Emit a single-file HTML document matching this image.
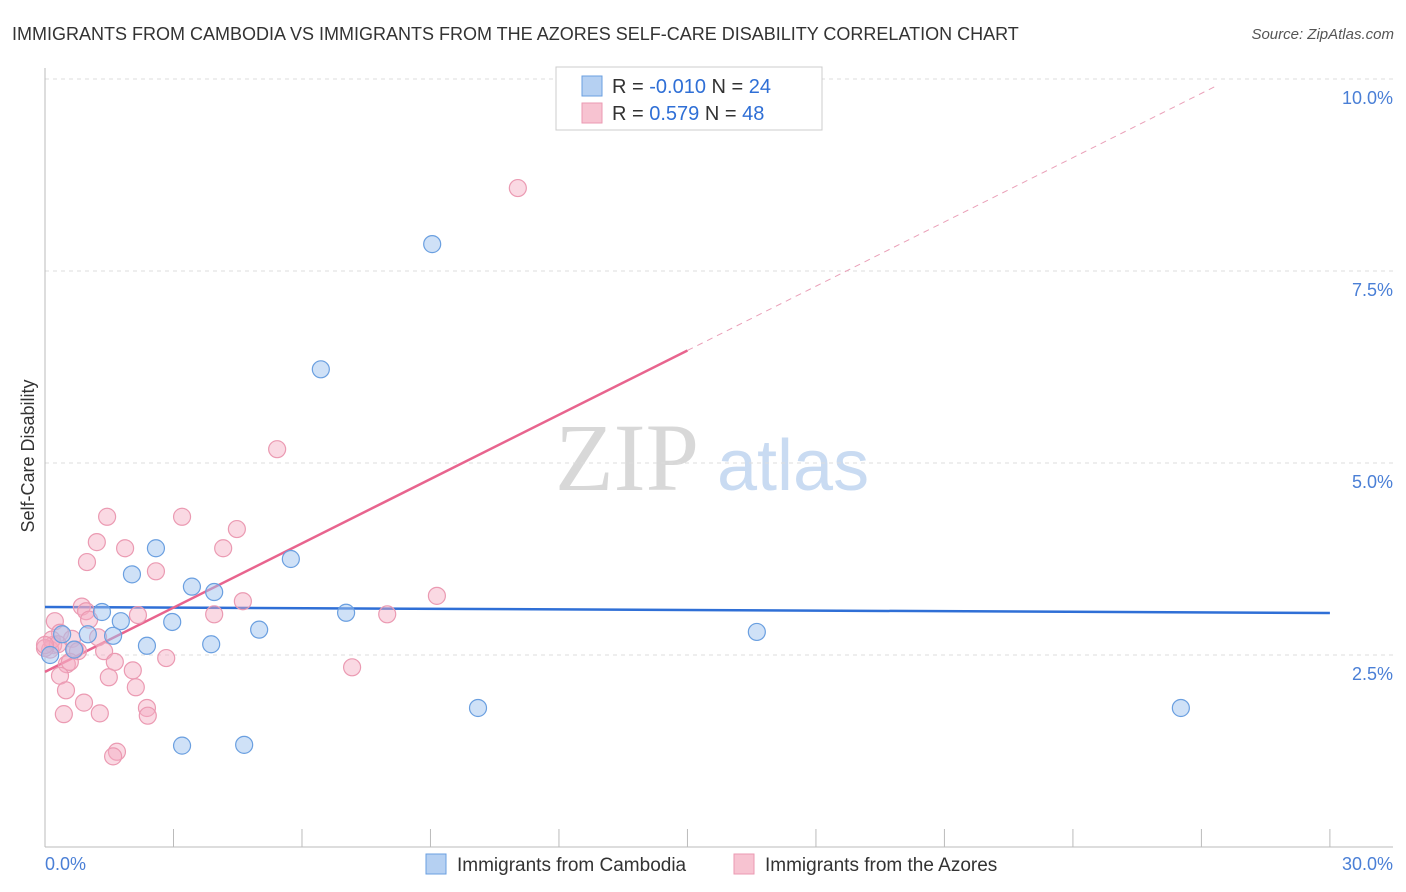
<!DOCTYPE html>
<html><head><meta charset="utf-8"><style>
body{margin:0;background:#fff;width:1406px;height:892px;overflow:hidden;font-family:"Liberation Sans",sans-serif}
svg{position:absolute;left:0;top:0}
</style></head><body>
<svg id="chart" width="1406" height="892">
<text x="12" y="40" font-size="18" fill="#333">IMMIGRANTS FROM CAMBODIA VS IMMIGRANTS FROM THE AZORES SELF-CARE DISABILITY CORRELATION CHART</text>
<text x="1394" y="39" font-size="15" fill="#555" font-style="italic" text-anchor="end">Source: ZipAtlas.com</text>
<text x="555" y="490" font-size="96" fill="#d8d8d8" font-family="Liberation Serif,serif">ZIP</text>
<text x="717" y="490" font-size="72" fill="#c9dbf2">atlas</text>
<text transform="translate(34,456) rotate(-90)" font-size="18" fill="#333" text-anchor="middle">Self-Care Disability</text>
<g id="grid"></g><g id="axes"></g><g id="lines"></g><g id="pts"></g>
<g>
<rect x="556" y="67" width="266" height="63" fill="#fff" stroke="#ccc"/>
<rect x="582" y="76" width="20" height="20" fill="#b5d0f2" stroke="#6a9fe0"/>
<rect x="582" y="103" width="20" height="20" fill="#f7c3d1" stroke="#eb9ab2"/>
<text x="612" y="93" font-size="20" fill="#333">R = <tspan fill="#2f6fd6">-0.010</tspan>   N = <tspan fill="#2f6fd6">24</tspan></text>
<text x="612" y="120" font-size="20" fill="#333">R =   <tspan fill="#2f6fd6">0.579</tspan>   N = <tspan fill="#2f6fd6">48</tspan></text>
</g>
<g>
<rect x="426" y="854" width="20" height="20" fill="#b5d0f2" stroke="#6a9fe0"/>
<text x="457" y="871" font-size="19" fill="#333">Immigrants from Cambodia</text>
<rect x="734" y="854" width="20" height="20" fill="#f7c3d1" stroke="#eb9ab2"/>
<text x="765" y="871" font-size="19" fill="#333">Immigrants from the Azores</text>
</g>
<text x="45" y="870" font-size="18" fill="#4a7fd6">0.0%</text>
<text x="1393" y="870" font-size="18" fill="#4a7fd6" text-anchor="end">30.0%</text>
</svg>
<script>
const yTicks=[2.5,5,7.5,10];
const yTickLabels=["2.5%","5.0%","7.5%","10.0%"];
const xTicks=[0,3,6,9,12,15,18,21,24,27,30];
const blueX=[9.04,6.44,2.59,2.03,5.74,3.43,3.95,1.33,1.77,2.97,7.03,5.00,1.59,1.00,0.40,2.38,3.88,0.68,0.12,16.62,10.11,26.52,3.20,4.65];
const blueY=[7.85,6.22,3.89,3.55,3.75,3.39,3.32,3.06,2.94,2.93,3.05,2.83,2.75,2.77,2.77,2.62,2.64,2.57,2.50,2.80,1.81,1.81,1.32,1.33];
const pinkX=[11.04,5.42,1.45,3.20,4.48,1.21,1.87,4.16,0.98,2.59,4.62,9.15,0.86,0.96,2.17,3.95,7.99,0.23,1.03,0.35,1.24,0.63,0.19,0.12,0.70,1.38,0.77,1.63,2.05,2.83,0.51,0.58,7.17,1.49,0.35,2.12,0.49,0.91,1.28,0.44,2.38,2.40,1.68,1.59,0.16,0.30,0.0,0.0];
const pinkY=[8.58,5.18,4.30,4.30,4.14,3.97,3.89,3.89,3.71,3.59,3.20,3.27,3.13,3.07,3.02,3.03,3.03,2.94,2.96,2.79,2.73,2.71,2.63,2.57,2.57,2.55,2.55,2.41,2.30,2.46,2.38,2.41,2.34,2.21,2.23,2.08,2.04,1.88,1.74,1.73,1.81,1.71,1.24,1.18,2.70,2.64,2.59,2.63];
const blueFit=[3.125,3.047];
const pinkFit=[2.28,0.279];
const NS="http://www.w3.org/2000/svg";
const X=v=>45+v*42.83, Y=v=>847-v*76.8;
function mk(t,a,p){const e=document.createElementNS(NS,t);for(const k in a)e.setAttribute(k,a[k]);p.appendChild(e);return e;}
const grid=document.getElementById('grid'),axes=document.getElementById('axes'),lines=document.getElementById('lines'),pts=document.getElementById('pts');
yTicks.forEach((t,i)=>{
 const l=mk('line',{x1:45,x2:1393,y1:Y(t),y2:Y(t),stroke:'#ddd','stroke-dasharray':'4,4'},grid);
 
 
 const tx=mk('text',{x:1393,y:Y(t)+25,'font-size':18,fill:'#4a7fd6','text-anchor':'end'},grid);
 tx.textContent=yTickLabels[i];
 
 
});
const ya=mk('line',{x1:45,x2:45,y1:68,y2:847,stroke:'#bbb'},axes);


const xa=mk('line',{x1:45,x2:1393,y1:847,y2:847,stroke:'#bbb'},axes);


xTicks.forEach(t=>{
 const l=mk('line',{x1:X(t),x2:X(t),y1:829,y2:847,stroke:'#bbb'},axes);
 
 
});
const bl=mk('line',{x1:X(0),x2:X(30),y1:Y(blueFit[0]),y2:Y(blueFit[1]),stroke:'#2f6fd6','stroke-width':2.5},lines);


const pl=mk('line',{x1:X(0),x2:X(15),y1:Y(pinkFit[0]),y2:Y(pinkFit[0]+15*pinkFit[1]),stroke:'#e8648e','stroke-width':2.5},lines);


const pd=mk('line',{x1:X(15),x2:X(27.3),y1:Y(pinkFit[0]+15*pinkFit[1]),y2:Y(pinkFit[0]+27.3*pinkFit[1]),stroke:'#eaa0b8','stroke-width':1,'stroke-dasharray':'6,5'},lines);


pinkX.forEach((x,i)=>{
 const c=mk('circle',{cx:X(x),cy:Y(pinkY[i]),r:8.5,fill:'rgba(244,170,192,0.45)',stroke:'#eb9ab2','stroke-width':1.2},pts);
 
 
});
blueX.forEach((x,i)=>{
 const c=mk('circle',{cx:X(x),cy:Y(blueY[i]),r:8.5,fill:'rgba(160,195,240,0.5)',stroke:'#6a9fe0','stroke-width':1.2},pts);
 
 
});
</script>
</body></html>
